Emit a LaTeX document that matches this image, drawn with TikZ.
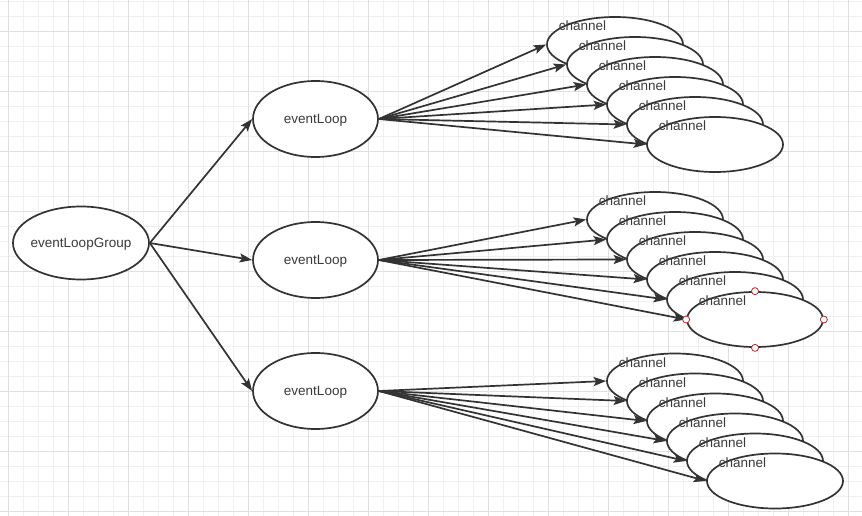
\documentclass[tikz,border=0pt]{standalone}
\usepackage{fontspec}
\setmainfont{Liberation Sans}
\usetikzlibrary{shapes.geometric,arrows.meta}
\definecolor{ink}{HTML}{333333}
\definecolor{txt}{HTML}{3A3A3A}
\definecolor{gridminor}{HTML}{F0F0F0}
\definecolor{gridmajor}{HTML}{E0E0E0}
\definecolor{handle}{HTML}{B03030}
\begin{document}
\begin{tikzpicture}[x=1pt,y=-1pt,
  oval/.style={ellipse,draw=ink,fill=white,line width=1.7pt,inner sep=0pt},
  grp/.style={oval,minimum width=136pt,minimum height=73pt},
  loopnode/.style={oval,minimum width=125pt,minimum height=76pt},
  chan/.style={oval,minimum width=136pt,minimum height=55pt},
  lbl/.style={text=txt,font=\fontsize{13.5}{16}\selectfont,inner sep=0pt},
  inlbl/.style={lbl,yshift=-1.5pt},
  link/.style={draw=ink,line width=1.7pt,-{Stealth[length=12.5pt,width=9pt,inset=2.5pt]}},
  hnd/.style={circle,draw=handle,fill=white,line width=0.8pt,minimum size=7pt,inner sep=0pt},
  minorline/.style={draw=gridminor,line width=0.8pt},
  majorline/.style={draw=gridmajor,line width=0.9pt}]
\useasboundingbox (0,0) rectangle (862,516);
\fill[white] (0,0) rectangle (862,516);
% grid
\foreach \i in {0,...,57} {\draw[minorline] ({8.3+15*\i},0) -- ({8.3+15*\i},516);}
\foreach \j in {0,...,34} {\draw[minorline] (0,{1.7+15*\j}) -- (862,{1.7+15*\j});}
\foreach \i in {0,...,14} {\draw[majorline] ({8.3+60*\i},0) -- ({8.3+60*\i},516);}
\foreach \j in {0,...,8} {\draw[majorline] (0,{31.7+60*\j}) -- (862,{31.7+60*\j});}
% main nodes
\node[grp,label={[inlbl]center:eventLoopGroup}] (g) at (81,243) {};
\node[loopnode,label={[inlbl]center:eventLoop}] (l1) at (315.5,119) {};
\node[loopnode,label={[inlbl]center:eventLoop}] (l2) at (315.5,260) {};
\node[loopnode,label={[inlbl]center:eventLoop}] (l3) at (315.5,391) {};
% channels
\foreach \k in {0,...,5} {
  \node[chan] (a\k) at ({615+20*\k},{44.5+20*\k}) {};
  \node[lbl] (at\k) at ({582.5+20*\k},{26+20*\k}) {channel};
}
\foreach \k in {0,...,5} {
  \node[chan] (b\k) at ({655+20*\k},{219.5+20*\k}) {};
  \node[lbl] (bt\k) at ({622.5+20*\k},{201+20*\k}) {channel};
}
\foreach \k in {0,...,5} {
  \node[chan] (c\k) at ({675+20*\k},{381+20*\k}) {};
  \node[lbl] (ct\k) at ({642.5+20*\k},{362.5+20*\k}) {channel};
}
% connectors
\draw[link] (g.east) -- (l1.west);
\draw[link] (g.east) -- (l2.west);
\draw[link] (g.east) -- (l3.west);
\foreach \k in {0,...,5} {
  \draw[link] (l1.east) -- (a\k.west);
  \draw[link] (l2.east) -- (b\k.west);
  \draw[link] (l3.east) -- (c\k.west);
}
% selection handles
\node[hnd] (h1) at (b5.west) {};
\node[hnd] (h2) at (b5.east) {};
\node[hnd] (h3) at (b5.north) {};
\node[hnd] (h4) at (b5.south) {};
\end{tikzpicture}
\end{document}
